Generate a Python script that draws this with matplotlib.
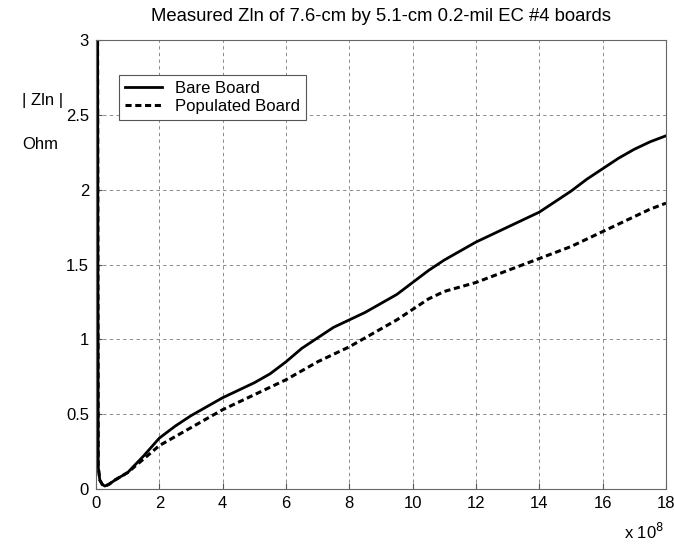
import matplotlib
matplotlib.use("Agg")
import matplotlib.pyplot as plt

plt.rcParams['font.family'] = ['Liberation Sans', 'DejaVu Sans']

freq = [0.05, 0.07, 0.12, 0.2, 0.28, 0.4, 0.6, 1.0, 1.5, 2, 2.5, 3, 3.5, 4, 4.5, 5, 5.5, 6,
        6.5, 7, 7.5, 8, 8.5, 9, 9.5, 10, 10.5, 11, 11.5, 12, 12.5, 13, 13.5, 14, 14.5, 15,
        15.5, 16, 16.5, 17, 17.5, 18]
bare = [3.0, 0.15, 0.06, 0.03, 0.02, 0.03, 0.06, 0.11, 0.22, 0.34, 0.42, 0.49, 0.55, 0.61,
        0.66, 0.71, 0.77, 0.85, 0.94, 1.01, 1.08, 1.13, 1.18, 1.24, 1.30, 1.38, 1.46, 1.53,
        1.59, 1.65, 1.70, 1.75, 1.80, 1.85, 1.92, 1.99, 2.07, 2.14, 2.21, 2.27, 2.32, 2.36]
populated = [3.0, 0.15, 0.06, 0.03, 0.02, 0.03, 0.06, 0.11, 0.20, 0.29, 0.35, 0.41, 0.47,
             0.53, 0.58, 0.63, 0.68, 0.73, 0.79, 0.85, 0.90, 0.95, 1.01, 1.07, 1.13, 1.20,
             1.27, 1.32, 1.35, 1.38, 1.42, 1.46, 1.50, 1.54, 1.58, 1.62, 1.67, 1.72, 1.77,
             1.82, 1.87, 1.91]
xticks = [0, 2, 4, 6, 8, 10, 12, 14, 16, 18]
yticks = [0, 0.5, 1, 1.5, 2, 2.5, 3]
ytick_labels = ['0', '0.5', '1', '1.5', '2', '2.5', '3']
series_labels = ['Bare Board', 'Populated Board']
title = 'Measured Zln of 7.6-cm by 5.1-cm 0.2-mil EC #4 boards'

fig = plt.figure(figsize=(6.74, 5.46), dpi=100)
ax = fig.add_axes([96/674, 57/546, 570/674, 449/546])

ax.plot(freq, bare, color='black', lw=2.0, ls='-', label=series_labels[0])
ax.plot(freq, populated, color='black', lw=2.2, ls=(0, (2.0, 1.2)), label=series_labels[1])

ax.set_xlim(0, 18)
ax.set_ylim(0, 3)
ax.set_xticks(xticks)
ax.set_xticklabels([str(t) for t in xticks])
ax.set_yticks(yticks)
ax.set_yticklabels(ytick_labels)
ax.tick_params(direction='in', length=4, labelsize=12, color='#555555', pad=5)
ax.grid(True, color='#777777', ls=(0, (4, 4)), lw=0.6)
for s in ax.spines.values():
    s.set_color('#666666')
    s.set_linewidth(0.8)

ax.set_title(title, fontsize=13.3, pad=14)

leg = ax.legend(loc='upper left', bbox_to_anchor=(23/570, 1 - 35/449), fontsize=12,
                frameon=True, fancybox=False, edgecolor='#555555', framealpha=1,
                handlelength=2.2, borderpad=0.35, labelspacing=0.2, handletextpad=0.8,
                borderaxespad=0)
leg.get_frame().set_linewidth(0.8)

fig.text(22/674, 1 - 100/546, '| Zln |', fontsize=12, ha='left', va='center')
fig.text(22/674, 1 - 145/546, 'Ohm', fontsize=12, ha='left', va='center')
fig.text(664/674, 4/546, r'x 10$^{8}$', fontsize=12, ha='right', va='bottom')

fig.savefig('out.png', dpi=100)
